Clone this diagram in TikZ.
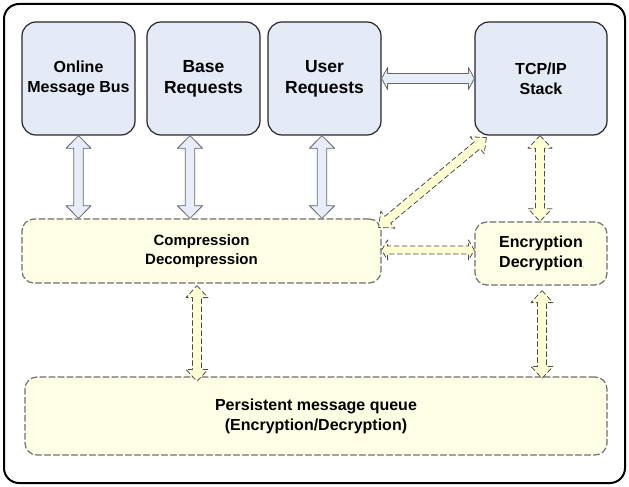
\documentclass[tikz,border=0pt]{standalone}
\usepackage{fontspec}
\setmainfont{Liberation Sans}
\usetikzlibrary{calc}
\definecolor{boxblue}{RGB}{228,234,246}
\definecolor{arrblue}{RGB}{232,238,249}
\definecolor{boxyellow}{RGB}{255,255,229}
\definecolor{arryellow}{RGB}{255,255,212}
\definecolor{dashgray}{RGB}{110,110,110}
\tikzset{
  arrdims/.code args={#1/#2/#3}{\def\arrhl{#1pt}\def\arrhw{#2pt}\def\arrsw{#3pt}},
  bluearr/.style={draw=black!60,line width=0.8pt,fill=arrblue},
  yelarr/.style={draw=black!70,line width=0.8pt,fill=arryellow,dash pattern=on 5pt off 3pt}
}
\newcommand{\fatlink}[3][]{%
\draw[#1] (#2)
  -- ($(#2)!\arrhl!(#3)!\arrhw!90:(#3)$)
  -- ($(#2)!\arrhl!(#3)!\arrsw!90:(#3)$)
  -- ($(#3)!\arrhl!(#2)!\arrsw!-90:(#2)$)
  -- ($(#3)!\arrhl!(#2)!\arrhw!-90:(#2)$)
  -- (#3)
  -- ($(#3)!\arrhl!(#2)!\arrhw!90:(#2)$)
  -- ($(#3)!\arrhl!(#2)!\arrsw!90:(#2)$)
  -- ($(#2)!\arrhl!(#3)!\arrsw!-90:(#3)$)
  -- ($(#2)!\arrhl!(#3)!\arrhw!-90:(#3)$)
  -- cycle;}

\begin{document}
\begin{tikzpicture}[x=1pt,y=-1pt,line cap=round,line join=round,
  topbox/.style={draw=black!85,line width=1.2pt,fill=boxblue,rounded corners=14pt,
    minimum width=113pt,minimum height=113pt,align=center,inner sep=0pt,
    font=\bfseries\fontsize{16}{20}\selectfont},
  bigtext/.style={font=\bfseries\fontsize{17.5}{21}\selectfont},
  dashbox/.style={draw=dashgray,line width=1.2pt,dash pattern=on 6pt off 3pt,fill=boxyellow,
    rounded corners=12pt,align=center,inner sep=0pt,
    font=\bfseries\fontsize{15}{19}\selectfont}]
\useasboundingbox (0,0) rectangle (629,487);
\draw[line width=2pt,rounded corners=15pt] (4,4) rectangle (625,483);

\node[topbox] (omb) at (78.5,78.5) {Online\\Message Bus};
\node[topbox,bigtext] (base) at (203.5,78.5) {Base\\Requests};
\node[topbox,bigtext] (usr) at (324.5,78.5) {User\\Requests};
\node[topbox,minimum width=132pt] (tcp) at (541,78.5) {TCP/IP\\Stack};

\node[dashbox,minimum width=359pt,minimum height=64pt] (cmp) at (201.5,251) {Compression\\Decompression};
\node[dashbox,minimum width=132pt,minimum height=63pt,font=\bfseries\fontsize{16}{20}\selectfont] (enc) at (541,253.5) {Encryption\\Decryption};
\node[dashbox,minimum width=582pt,minimum height=78pt,font=\bfseries\fontsize{16}{20}\selectfont] (pmq) at (316,416) {Persistent message queue\\(Encryption/Decryption)};

\coordinate (ot) at (omb.south);
\coordinate (ob) at (ot |- cmp.north);
\coordinate (bt) at ([xshift=-13.5pt]base.south);
\coordinate (bb) at (bt |- cmp.north);
\coordinate (ut) at ([xshift=-2.5pt]usr.south);
\coordinate (ub) at (ut |- cmp.north);
\coordinate (tt) at ([xshift=-1pt]tcp.south);
\coordinate (tb) at (tt |- enc.north);
\coordinate (dt) at ([shift={(12,2)}]tcp.south west);
\coordinate (db) at ([shift={(-3,9)}]cmp.north east);
\coordinate (ht) at ([yshift=1pt]cmp.east);
\coordinate (hb) at (ht -| enc.west);
\coordinate (ct) at ([shift={(-4.5,2)}]cmp.south);
\coordinate (cb) at ([yshift=-5pt]ct |- pmq.north);
\coordinate (et) at ([shift={(1,5)}]enc.south);
\coordinate (eb) at ([yshift=-2pt]et |- pmq.north);

\fatlink[bluearr,arrdims=12.7/12.5/4.7]{ot}{ob}
\fatlink[bluearr,arrdims=12.7/12.5/4.7]{bt}{bb}
\fatlink[bluearr,arrdims=12.7/12.5/4.7]{ut}{ub}
\fatlink[bluearr,arrdims=6/11/5]{usr.east}{tcp.west}
\fatlink[yelarr,arrdims=12.7/12/4.5]{tt}{tb}
\fatlink[yelarr,arrdims=12/11/4.5]{dt}{db}
\fatlink[yelarr,arrdims=6/10/4]{ht}{hb}
\fatlink[yelarr,arrdims=12/11/4.5]{ct}{cb}
\fatlink[yelarr,arrdims=12/11/4.5]{et}{eb}
\end{tikzpicture}
\end{document}
